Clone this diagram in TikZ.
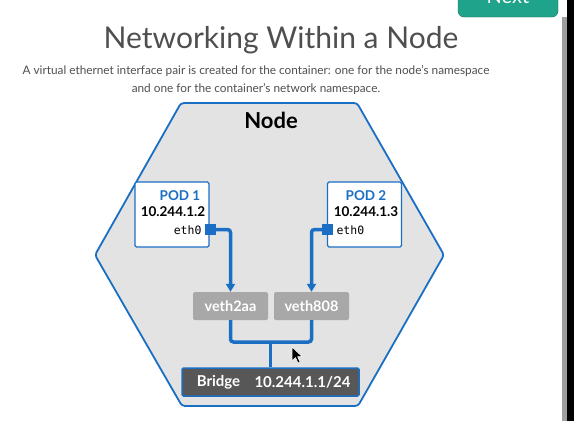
\documentclass[tikz,border=0pt]{standalone}
\usepackage{fontspec}
\setmainfont{Lato}
\setmonofont{DejaVu Sans Mono}
\usetikzlibrary{arrows.meta}

\definecolor{kblue}{HTML}{1A6FC4}
\definecolor{nodegrey}{HTML}{E3E3E3}
\definecolor{vethgrey}{HTML}{A8A8A8}
\definecolor{bridgegrey}{HTML}{575757}
\definecolor{titlegrey}{HTML}{4F4F4F}
\definecolor{nextgreen}{HTML}{1FA38A}

\begin{document}
\begin{tikzpicture}[x=1pt, y=-1pt, >={Triangle[length=8pt,width=9pt]},
    podbox/.style={draw=kblue, line width=1.3pt, fill=white, rounded corners=1.5pt,
        minimum width=74pt, minimum height=65pt},
    portbox/.style={fill=kblue, minimum size=11pt, inner sep=0pt},
    vethbox/.style={fill=vethgrey, rounded corners=1.5pt, minimum width=75pt,
        minimum height=28pt, text=white, font=\bfseries\fontsize{14.5}{16}\selectfont},
    link/.style={kblue, line width=3.5pt, rounded corners=3pt}]
    \useasboundingbox (0,0) rectangle (574,421);
    \fill[white] (0,0) rectangle (574,421);
    % browser bits
    \draw[fill=nextgreen, draw=nextgreen!70!black, rounded corners=6pt] (458,-12) rectangle (558,17);
    \node[anchor=base, text=white, font=\fontsize{20}{22}\selectfont] (next) at (508,3) {Next};
    \fill[gray!75] (562,17) rectangle (567,421);
    \fill[black] (567,0) rectangle (574,421);
    % heading
    \node[text=titlegrey, font=\fontsize{30}{34}\selectfont] (title) at (281,40) {Networking Within a Node};
    \node[text=titlegrey, font=\fontsize{11.8}{18}\selectfont, align=center] (sub) at (256,80)
        {A virtual ethernet interface pair is created for the container: one for the node's namespace\\
         and one for the container's network namespace.};
    % node hexagon
    \draw[kblue, line width=1.8pt, fill=nodegrey, rounded corners=3pt]
        (181,103) -- (357,103) -- (444,255) -- (358,406) -- (182,406) -- (95,255) -- cycle;
    \node[font=\bfseries\fontsize{22}{24}\selectfont] (nodelabel) at (271,120) {Node};
    % pods
    \node[podbox] (pod1) at (172,214.5) {};
    \node[text=kblue, font=\bfseries\fontsize{13.5}{15}\selectfont] (pod1name) at (180,196) {POD 1};
    \node[font=\bfseries\fontsize{13.5}{15}\selectfont] (pod1ip) at (173,211.5) {10.244.1.2};
    \node[font=\ttfamily\fontsize{11.5}{13}\selectfont, anchor=east] (pod1eth) at (205,230) {eth0};
    \node[portbox] (port1) at (210.5,229.5) {};
    \node[podbox] (pod2) at (364.5,214.5) {};
    \node[text=kblue, font=\bfseries\fontsize{13.5}{15}\selectfont] (pod2name) at (366,196) {POD 2};
    \node[font=\bfseries\fontsize{13.5}{15}\selectfont] (pod2ip) at (366,211.5) {10.244.1.3};
    \node[font=\ttfamily\fontsize{11.5}{13}\selectfont, anchor=west] (pod2eth) at (333,230) {eth0};
    \node[portbox] (port2) at (327.5,229.5) {};
    % veth pair ends and bridge
    \node[vethbox] (veth2aa) at (230.5,306) {veth2aa};
    \node[vethbox] (veth808) at (311.5,306) {veth808};
    \node[draw=kblue, line width=1.5pt, fill=bridgegrey, rounded corners=1.5pt, minimum width=177pt,
        minimum height=28pt] (bridge) at (270.5,382) {};
    \node[text=white, font=\bfseries\fontsize{15}{17}\selectfont] (bridgename) at (218.5,382) {Bridge};
    \node[text=white, font=\bfseries\fontsize{15}{17}\selectfont] (bridgeip) at (302.5,382) {10.244.1.1/24};
    \coordinate (join) at (270.5,342);
    % links
    \draw[link, ->] (port1.east) -| (veth2aa.north);
    \draw[link, ->] (port2.west) -| (veth808.north);
    \draw[link] (veth2aa.south) |- (join) -| (veth808.south);
    \draw[link, rounded corners=0pt] (join) -- (bridge.north);
    % mouse pointer
    \draw[fill=black, draw=white, line width=0.5pt, line join=round]
        (292,347) -- (292,361) -- (295.5,357.5) -- (298,363) -- (300,362) -- (297.5,356.5) -- (302,356.5) -- cycle;
\end{tikzpicture}
\end{document}
